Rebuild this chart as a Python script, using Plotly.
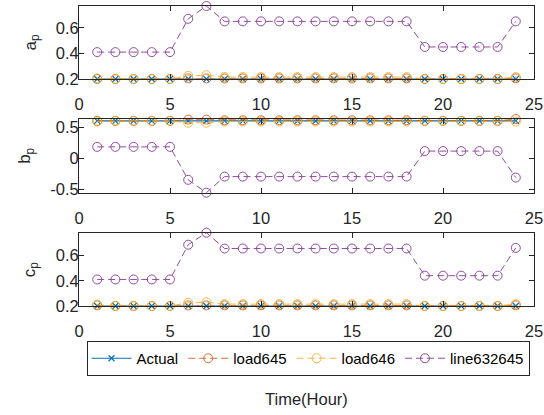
import plotly.graph_objects as go
from plotly.subplots import make_subplots

hours = list(range(1, 25))

# a_p
a_actual = [0.2] * 24
a_load645 = [0.2, 0.2, 0.2, 0.2, 0.2, 0.205, 0.205, 0.205, 0.205, 0.205, 0.205, 0.205,
             0.205, 0.205, 0.205, 0.205, 0.205, 0.205, 0.2, 0.2, 0.2, 0.2, 0.2, 0.205]
a_load646 = [0.205, 0.2, 0.2, 0.2, 0.2, 0.225, 0.23, 0.215, 0.215, 0.215, 0.215, 0.215,
             0.215, 0.215, 0.215, 0.215, 0.215, 0.215, 0.2, 0.2, 0.2, 0.2, 0.2, 0.215]
a_line = [0.41, 0.41, 0.41, 0.41, 0.41, 0.67, 0.77, 0.65, 0.65, 0.65, 0.65, 0.65,
          0.65, 0.65, 0.65, 0.65, 0.65, 0.65, 0.45, 0.45, 0.45, 0.45, 0.45, 0.65]

# b_p
b_actual = [0.6] * 24
b_load645 = [0.6, 0.6, 0.6, 0.6, 0.6, 0.62, 0.62, 0.61, 0.61, 0.61, 0.61, 0.61,
             0.61, 0.61, 0.61, 0.61, 0.61, 0.61, 0.6, 0.6, 0.6, 0.6, 0.6, 0.63]
b_load646 = [0.59, 0.6, 0.6, 0.6, 0.6, 0.57, 0.57, 0.59, 0.59, 0.59, 0.59, 0.59,
             0.59, 0.59, 0.59, 0.59, 0.59, 0.59, 0.6, 0.6, 0.6, 0.6, 0.6, 0.59]
b_line = [0.184, 0.184, 0.184, 0.184, 0.184, -0.344, -0.55, -0.292, -0.292, -0.292, -0.292, -0.292,
          -0.292, -0.292, -0.292, -0.292, -0.292, -0.292, 0.116, 0.116, 0.116, 0.116, 0.116, -0.308]

# c_p
c_actual = [0.2] * 24
c_load645 = [0.205, 0.2, 0.2, 0.2, 0.2, 0.205, 0.205, 0.205, 0.205, 0.205, 0.205, 0.205,
             0.205, 0.205, 0.205, 0.205, 0.205, 0.205, 0.2, 0.2, 0.2, 0.2, 0.2, 0.205]
c_load646 = [0.21, 0.2, 0.2, 0.2, 0.2, 0.225, 0.23, 0.215, 0.215, 0.215, 0.215, 0.215,
             0.215, 0.215, 0.215, 0.215, 0.215, 0.215, 0.2, 0.2, 0.2, 0.2, 0.2, 0.215]
c_line = [0.41, 0.41, 0.41, 0.41, 0.41, 0.685, 0.78, 0.655, 0.655, 0.655, 0.655, 0.655,
          0.655, 0.655, 0.655, 0.655, 0.655, 0.655, 0.44, 0.44, 0.44, 0.44, 0.44, 0.66]

series_names = ["Actual", "load645", "load646", "line632645"]
colors = ["#0072BD", "#D95319", "#EDB120", "#7E2F8E"]
panels = [
    ("a<sub>p</sub>", [a_actual, a_load645, a_load646, a_line], [0.2, 0.4, 0.6], ["0.2", "0.4", "0.6"]),
    ("b<sub>p</sub>", [b_actual, b_load645, b_load646, b_line], [-0.5, 0, 0.5], ["-0.5", "0", "0.5"]),
    ("c<sub>p</sub>", [c_actual, c_load645, c_load646, c_line], [0.2, 0.4, 0.6], ["0.2", "0.4", "0.6"]),
]
x_ticks = [0, 5, 10, 15, 20, 25]

W, H = 544, 415
L, R, T, B = 79, 10, 6, 109
plot_h = H - T - B
plot_w = W - L - R

fig = make_subplots(rows=3, cols=1, shared_xaxes=False, vertical_spacing=0.1345)

font = "Liberation Sans, Arial, sans-serif"
axcol = "#262626"

label_x_px = [31, 26, 31]
for i, (lab, data, yt, ytl) in enumerate(panels):
    row = i + 1
    for j, (name, col, ys) in enumerate(zip(series_names, colors, data)):
        if j == 0:
            fig.add_trace(go.Scatter(
                x=hours, y=ys, name=name, mode="lines+markers",
                line=dict(color=col, width=1.2),
                marker=dict(symbol="x-thin", size=6, line=dict(color=col, width=1.2)),
                showlegend=(i == 0), legendgroup=name, cliponaxis=False), row=row, col=1)
        else:
            fig.add_trace(go.Scatter(
                x=hours, y=ys, name=name, mode="lines+markers",
                line=dict(color=col, width=1, dash="7px,4px"),
                marker=dict(symbol="circle-open", size=9, line=dict(color=col, width=1)),
                opacity=0.85,
                showlegend=(i == 0), legendgroup=name, cliponaxis=False), row=row, col=1)
    allv = [v for s in data for v in s]
    ymin, ymax = min(allv), max(allv)
    fig.update_yaxes(row=row, col=1, range=[ymin, ymax], tickvals=yt, ticktext=ytl,
                     ticks="inside", ticklen=5, tickcolor=axcol, showline=True, linecolor=axcol,
                     linewidth=1, mirror="ticks", showgrid=False, zeroline=False,
                     tickfont=dict(family=font, size=16.5, color=axcol), ticklabelstandoff=-4)
    fig.update_xaxes(row=row, col=1, range=[0, 25], tickvals=x_ticks,
                     ticks="inside", ticklen=5, tickcolor=axcol, showline=True, linecolor=axcol,
                     linewidth=1, mirror="ticks", showgrid=False, zeroline=False,
                     tickfont=dict(family=font, size=16.5, color=axcol), ticklabelstandoff=10)

# domains (pixel based)
doms_px = [(6, 79), (119, 192.7), (232.7, 306)]
for i, (top, bot) in enumerate(doms_px):
    d = [(H - B - bot) / plot_h, (H - B - top) / plot_h]
    key = "yaxis" if i == 0 else f"yaxis{i+1}"
    fig.layout[key].domain = d
    cy = (top + bot) / 2
    fig.add_annotation(text=panels[i][0], xref="paper", yref="paper",
                       x=(label_x_px[i] - L) / plot_w, y=(H - B - cy) / plot_h,
                       xanchor="center", yanchor="middle", textangle=-90, showarrow=False,
                       font=dict(family=font, size=17, color=axcol))

fig.add_annotation(text="Time(Hour)", xref="paper", yref="paper",
                   x=(306 - L) / plot_w, y=(H - B - 399) / plot_h,
                   xanchor="center", yanchor="middle", showarrow=False,
                   font=dict(family=font, size=16.5, color=axcol))

fig.update_layout(
    width=W, height=H, margin=dict(l=L, r=R, t=T, b=B, autoexpand=False),
    paper_bgcolor="white", plot_bgcolor="white",
    showlegend=True,
    legend=dict(orientation="h", xref="container", yref="container",
                x=308 / W, xanchor="center",
                y=(H - 341) / H, yanchor="top",
                bordercolor=axcol, borderwidth=1, bgcolor="white",
                font=dict(family=font, size=15, color="black"),
                itemwidth=40, tracegroupgap=0),
)

fig.write_html("out.html", config={"displayModeBar": False},
               post_script="document.body.style.margin='0';document.body.style.overflow='hidden';")
